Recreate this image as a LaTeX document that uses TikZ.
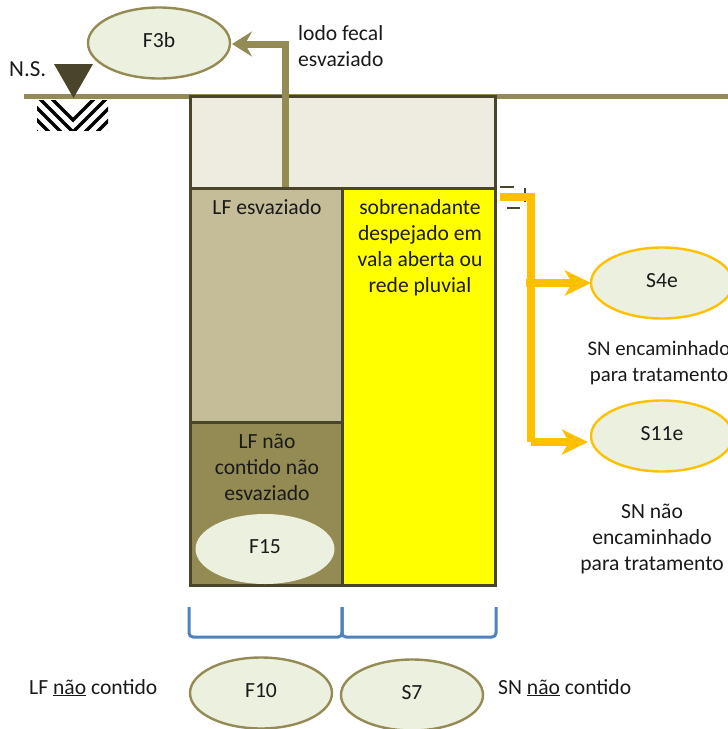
\documentclass[tikz,border=0pt]{standalone}
\usepackage{fontspec}
\usetikzlibrary{arrows.meta,shapes.geometric}
\setmainfont{Carlito}
\definecolor{olivefill}{HTML}{948A54}
\definecolor{darkline}{HTML}{4A452A}
\definecolor{topfill}{HTML}{EEECE1}
\definecolor{tanfill}{HTML}{C4BD97}
\definecolor{ellfill}{HTML}{EBF1DE}
\definecolor{orangeline}{HTML}{FFC000}
\definecolor{blueline}{HTML}{4F81BD}
\definecolor{txt}{HTML}{1A1A1A}
\definecolor{pureyellow}{HTML}{FFFF00}
\tikzset{
  oval/.style={ellipse,draw=olivefill,line width=2.4pt,fill=ellfill,minimum width=142pt,minimum height=71pt,inner sep=0pt,outer sep=0pt,text=txt,text height=14pt,text depth=4.5pt},
  ovalo/.style={oval,draw=orangeline},
  lbl/.style={align=center,text=txt,inner sep=0pt,font=\fontsize{21.6}{26}\selectfont},
  box/.style={draw=darkline,line width=3pt,inner sep=0pt,outer sep=0pt,anchor=north west},
  olivearrow/.style={draw=olivefill,line width=7pt,-{Stealth[length=20pt,width=25pt,inset=7pt]}},
  orangearrow/.style={draw=orangeline,line width=7.5pt,-{Stealth[length=26pt,width=25pt,inset=7pt]}},
}
\begin{document}
\begin{tikzpicture}[x=1pt,y=-1pt,font=\fontsize{21.6}{26}\selectfont]
\useasboundingbox (0,0) rectangle (728,729);
\clip (0,0) rectangle (728,729);
% ground line
\coordinate (g1) at (24,96); \coordinate (g2) at (728,96);
\draw[olivefill,line width=5pt] (g1) -- (g2);
% hatch
\begin{scope}
\clip (73,100) rectangle (108,130);
\foreach \i in {-12,0,...,60}{
  \draw[black,line width=3.2pt] (73+\i+36,96) -- (73+\i,132);
}
\end{scope}
\begin{scope}
\clip (37,100) rectangle (73,130);
\foreach \i in {-12,0,...,60}{
  \draw[black,line width=3.2pt] (73-\i-36,96) -- (73-\i,132);
}
\end{scope}
% level triangle
\fill[darkline] (54,64) -- (93,64) -- (73.5,98) -- cycle;
\node[lbl,anchor=base west,font=\fontsize{23}{26}\selectfont] (ns) at (9,76) {N.S.};
% boxes
\node[box,fill=topfill,minimum width=305pt,minimum height=92pt] (top) at (190.5,96) {};
\node[box,fill=tanfill,minimum width=152pt,minimum height=234pt] (lf) at (190.5,188) {};
\node[box,fill=olivefill,minimum width=152pt,minimum height=163pt] (lfn) at (190.5,422) {};
\node[box,fill=pureyellow,minimum width=153pt,minimum height=397pt] (sn) at (342.5,188) {};
\node[lbl,anchor=north] (lft) at (267,199.5) {LF esvaziado};
\node[lbl,anchor=north] (lfnt) at (267,434) {LF não\\contido não\\esvaziado};
\node[lbl,anchor=north] (snt) at (420,199.5) {sobrenadante\\despejado em\\vala aberta ou\\rede pluvial};
\node[oval,draw=none,minimum width=139pt,minimum height=70pt] (F15) at (265,549) {F15};
% ovals
\node[oval] (F3b) at (159,43) {F3b};
\node[ovalo] (S4e) at (662,283) {S4e};
\node[ovalo] (S11e) at (662,436) {S11e};
\node[oval] (F10) at (261,693) {F10};
\node[oval] (S7) at (412,695) {S7};
% connectors
\coordinate (c1) at (285,187);
\coordinate (c2) at (285,44);
\coordinate (a1) at (232,44);
\draw[olivearrow] (c1) -- (c2) -- (a1);
\coordinate (o0) at (500,197);
\coordinate (o1) at (531,197);
\coordinate (o3) at (531,442);
\coordinate (a2s) at (526,283);
\coordinate (a2) at (591,283);
\coordinate (a3s) at (531,442);
\coordinate (a3) at (588,442);
\draw[darkline,line width=2.4pt] (500,187) -- (514,187) (507,208) -- (520,208);
\draw[darkline,line width=1.4pt] (525,188) -- (525,202);
\draw[orangeline,line width=7.5pt] (o0) -- (o1) -- (o3);
\draw[orangearrow] (a2s) -- (a2);
\draw[orangearrow] (a3s) -- (a3);
% brace
\coordinate (b1) at (189,607); \coordinate (b2) at (342,607); \coordinate (b3) at (496,607);
\draw[blueline,line width=3pt,rounded corners=4pt] (b1) -- (189,637) -- (342,637) -- (b2);
\draw[blueline,line width=3pt,rounded corners=4pt] (b2) -- (342,637) -- (496,637) -- (b3);
% labels
\node[lbl,anchor=north west,align=left] (lodo) at (298,25) {lodo fecal\\esvaziado};
\node[lbl,anchor=north,font=\fontsize{20.8}{26}\selectfont] (sn1) at (659,341) {SN encaminhado\\para tratamento};
\node[lbl,anchor=north] (sn2) at (652,504) {SN não\\encaminhado\\para tratamento};
\node[lbl,anchor=base west] (lfc) at (29,694) {LF \underline{não} contido};
\node[lbl,anchor=base west] (snc) at (498,694) {SN \underline{não} contido};
\end{tikzpicture}
\end{document}
